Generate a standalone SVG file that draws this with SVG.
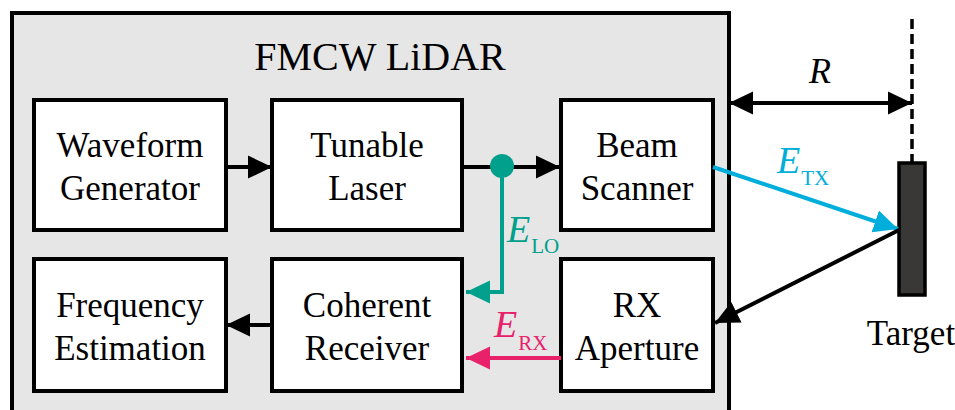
<svg xmlns="http://www.w3.org/2000/svg" width="955" height="410" viewBox="0 0 955 410">
<defs>
<style>
.box{fill:#fff;stroke:#000;stroke-width:4}
.t{font-family:"Liberation Serif","Times New Roman",serif;font-size:35px;fill:#000;text-anchor:middle}
.ln{fill:none;stroke-width:4}
.lab{font-family:"Liberation Serif","Times New Roman",serif;font-size:38px}
.e{font-style:italic}
.sub{font-size:21px;font-style:normal}
</style>
<marker id="ak" markerUnits="userSpaceOnUse" markerWidth="24" markerHeight="24" refX="24" refY="12" orient="auto-start-reverse" viewBox="0 0 24 24"><path d="M0,0.5 L24,12 L0,23.5 z" fill="#000"/></marker>
<marker id="at" markerUnits="userSpaceOnUse" markerWidth="24" markerHeight="24" refX="24" refY="12" orient="auto" viewBox="0 0 24 24"><path d="M0,0.5 L24,12 L0,23.5 z" fill="#00a08c"/></marker>
<marker id="am" markerUnits="userSpaceOnUse" markerWidth="24" markerHeight="24" refX="24" refY="12" orient="auto" viewBox="0 0 24 24"><path d="M0,0.5 L24,12 L0,23.5 z" fill="#e8216a"/></marker>
<marker id="ac" markerUnits="userSpaceOnUse" markerWidth="24" markerHeight="24" refX="24" refY="12" orient="auto" viewBox="0 0 24 24"><path d="M0,0.5 L24,12 L0,23.5 z" fill="#00aedc"/></marker>
</defs>
<rect width="955" height="410" fill="#fff"/>
<g id="lidar">
<rect x="12" y="13" width="717" height="420" fill="#e6e6e6" stroke="#000" stroke-width="4"/>
<text x="380" y="70" class="t" style="font-size:40px">FMCW LiDAR</text>
</g>
<g id="waveform"><rect class="box" x="34" y="100" width="192" height="130"/><text class="t" x="130" y="157">Waveform</text><text class="t" x="130" y="200">Generator</text></g>
<g id="laser"><rect class="box" x="272" y="100" width="190" height="130"/><text class="t" x="367" y="157">Tunable</text><text class="t" x="367" y="200">Laser</text></g>
<g id="scanner"><rect class="box" x="561" y="100" width="152" height="130"/><text class="t" x="637" y="157">Beam</text><text class="t" x="637" y="200">Scanner</text></g>
<g id="freq"><rect class="box" x="34" y="259" width="192" height="132"/><text class="t" x="130" y="317">Frequency</text><text class="t" x="130" y="360">Estimation</text></g>
<g id="coherent"><rect class="box" x="272" y="259" width="190" height="132"/><text class="t" x="367" y="317">Coherent</text><text class="t" x="367" y="360">Receiver</text></g>
<g id="rx"><rect class="box" x="561" y="259" width="152" height="132"/><text class="t" x="637" y="317">RX</text><text class="t" x="637" y="360">Aperture</text></g>
<g id="target">
<line x1="912" y1="19" x2="912" y2="163" stroke="#000" stroke-width="3.5" stroke-dasharray="10,5"/>
<rect x="899" y="163" width="26" height="132" fill="#3a3836" stroke="#000" stroke-width="3.5"/>
<text class="t" x="911" y="345">Target</text>
</g>
<g id="connectors">
<line class="ln" stroke="#000" x1="226" y1="167" x2="272" y2="167" marker-end="url(#ak)"/>
<line class="ln" stroke="#000" x1="462" y1="167" x2="560" y2="167" marker-end="url(#ak)"/>
<line class="ln" stroke="#000" x1="272" y1="325" x2="226" y2="325" marker-end="url(#ak)"/>
<polyline class="ln" stroke="#00a08c" points="502,167 502,292 466,292" marker-end="url(#at)"/>
<circle cx="502" cy="166" r="12" fill="#00a08c"/>
<line class="ln" stroke="#e8216a" x1="561" y1="358" x2="466" y2="358" marker-end="url(#am)"/>
<line class="ln" stroke="#00aedc" x1="713" y1="167" x2="898" y2="229" marker-end="url(#ac)"/>
<line class="ln" stroke="#000" x1="899" y1="230" x2="715" y2="323" marker-end="url(#ak)"/>
<line class="ln" stroke="#000" x1="729" y1="103" x2="912" y2="103" marker-start="url(#ak)" marker-end="url(#ak)"/>
<text x="820" y="83" class="lab e" style="text-anchor:middle;font-size:36px">R</text>
<text x="507" y="242" fill="#00a08c" class="lab"><tspan class="e">E</tspan><tspan class="sub" dx="1" dy="11">LO</tspan></text>
<text x="494" y="337" fill="#e8216a" class="lab"><tspan class="e">E</tspan><tspan class="sub" dx="1" dy="13">RX</tspan></text>
<text x="777" y="173" fill="#00aedc" class="lab"><tspan class="e">E</tspan><tspan class="sub" dx="1" dy="12">TX</tspan></text>
</g>
</svg>
